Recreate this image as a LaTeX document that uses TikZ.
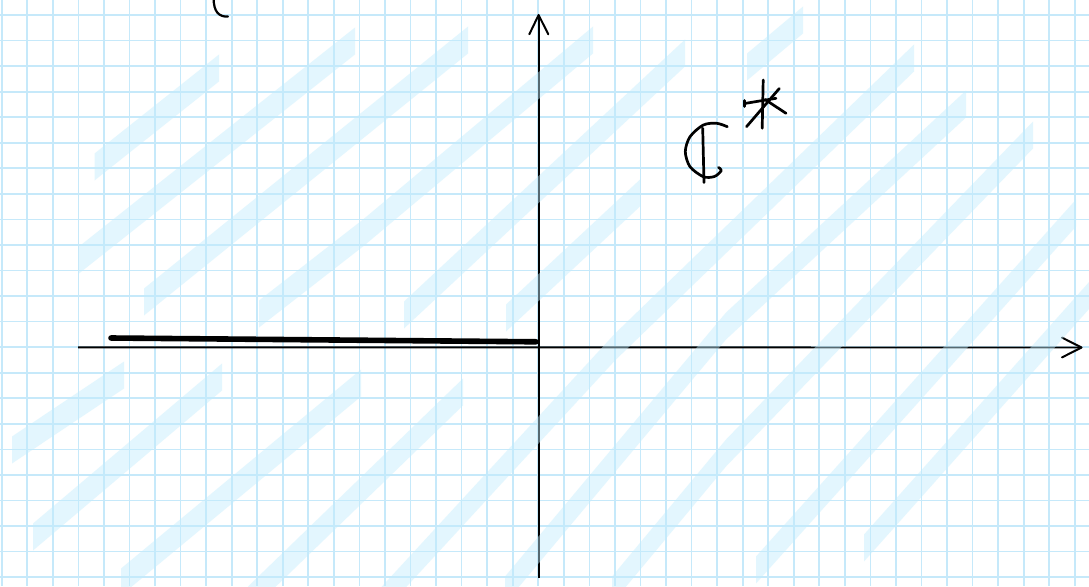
\documentclass[tikz,border=0pt]{standalone}
\usetikzlibrary{calc}
\definecolor{gridblue}{RGB}{198,233,250}
\definecolor{hlcyan}{RGB}{195,237,253}
\tikzset{
  gridline/.style={draw=gridblue, line width=1.7pt},
  axisline/.style={draw=black, line width=1.9pt},
  tipline/.style={draw=black, line width=2pt, line cap=round, line join=round},
  ink/.style={draw=black, line width=2.7pt, line cap=round, line join=round},
  hl/.style={fill=hlcyan, fill opacity=0.45},
}
\newcommand\bandtwo[4]{\fill[hl] (#1,#2-13.5) -- (#3,#4-13.5) -- (#3,#4+13.5) -- (#1,#2+13.5) -- cycle;}
\newcommand\bandthree[6]{\fill[hl] (#1,#2-13.5) -- (#3,#4-13.5) -- (#5,#6-13.5) -- (#5,#6+13.5) -- (#3,#4+13.5) -- (#1,#2+13.5) -- cycle;}
\begin{document}
\begin{tikzpicture}[x=1pt,y=-1pt]
\useasboundingbox (0,0) rectangle (1089,586);
\fill[white] (0,0) rectangle (1089,586);
\clip (0,0) rectangle (1089,586);
% grid paper
\foreach \i in {0,...,42} \draw[gridline] ({1.7+25.55*\i},0) -- ({1.7+25.55*\i},586);
\foreach \j in {0,...,22} \draw[gridline] (0,{15+25.55*\j}) -- (1089,{15+25.55*\j});
% axes
\coordinate (xs) at (78,347.3);
\coordinate (xe) at (1081.5,347.5);
\coordinate (xa1) at (1062,337.6);
\coordinate (xa2) at (1062,357.4);
\coordinate (ys) at (538.6,578);
\coordinate (ye) at (538.6,15);
\coordinate (ya1) at (529.3,34.3);
\coordinate (ya2) at (548.3,34.3);
\draw[axisline] (xs) -- (xe);
\draw[tipline] (xa1) -- (xe) -- (xa2);
\draw[axisline] (ys) -- (ye);
\draw[tipline] (ya1) -- (ye) -- (ya2);
% branch cut on the negative real axis
\coordinate (cs) at (111,338);
\coordinate (ce) at (536,341.8);
\draw[draw=black, line width=5.6pt, line cap=round] (cs) -- (ce);
% partial bracket at the top
\draw[ink, line width=2.2pt] (213.6,-2) .. controls (213.6,12) and (219,17) .. (228,16.6);
% handwritten C*
\draw[ink] plot[smooth] coordinates {(727.3,126.7) (716.7,123.3) (703.3,125) (690,136.7) (685.3,151.7) (690,166.7) (703.3,176.7) (714.5,176.5) (721.3,170.5) (718.5,167.5)};
\draw[ink] (702.7,128.3) -- (704,182.5);
\draw[ink] (763.2,80) -- (762.2,128.3);
\draw[ink] (746.5,126.7) -- (779.3,88.5);
\draw[ink] (744.6,103.5) -- (776,98.3);
\draw[ink] (744.6,100.5) -- (744.6,106.5);
\draw[ink] (765,99.5) -- (786,113.3);
% highlighter hatching (upper half)
\bandtwo{94.5}{167}{219}{68}
\bandtwo{79}{260}{355}{41}
\bandtwo{144}{302}{468}{40}
\bandthree{259}{314}{363}{233}{593}{40}
\bandtwo{404}{315}{685}{53}
\bandtwo{506}{318}{640}{193}
\bandtwo{747}{67}{803}{20}
% highlighter hatching (lower half and long strokes)
\bandtwo{12}{450}{124}{375}
\bandtwo{33}{537}{222}{377}
\bandtwo{121}{582}{361}{383}
\bandtwo{248}{600}{463}{392}
\bandthree{380}{602}{615}{347}{914}{58}
\bandthree{505}{590}{726}{326}{966}{104}
\bandthree{612}{590}{726}{453}{1033}{135}
\bandtwo{756}{570}{1076}{213}
\bandtwo{864}{548}{1110}{272}
\end{tikzpicture}
\end{document}
